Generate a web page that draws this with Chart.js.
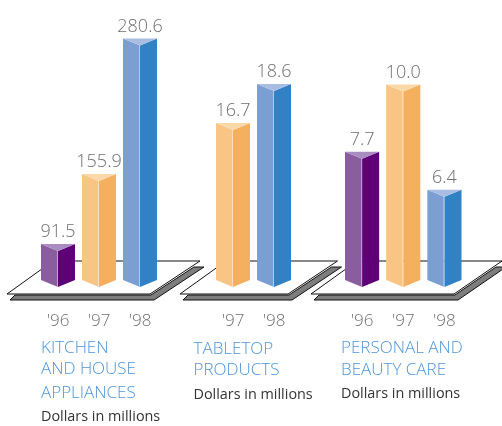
<!DOCTYPE html>
<html>
<head>
<meta charset="utf-8">
<script src="https://cdn.jsdelivr.net/npm/chart.js@4"></script>
<style>
  html, body { margin: 0; padding: 0; background: #fff; }
  #page { position: relative; width: 502px; height: 426px; overflow: hidden; }
  #page canvas { position: absolute; left: 0; top: 0; }
  .line { position: absolute; white-space: nowrap; font-family: "Open Sans", sans-serif; line-height: 20px; transform: translateY(-10px); }
  .head { color: #4f95d6; font-size: 17px; font-weight: 300; }
  .unit { color: #333; font-size: 14.4px; }
</style>
</head>
<body>
<div id="page"></div>
<script>
// Sales by product line, dollars in millions
const kitchenYears = ["'96", "'97", "'98"];
const kitchenSales = [91.5, 155.9, 280.6];
const tabletopYears = ["'97", "'98"];
const tabletopSales = [16.7, 18.6];
const personalYears = ["'96", "'97", "'98"];
const personalSales = [7.7, 10.0, 6.4];

const kitchenTitle = ["KITCHEN", "AND HOUSE", "APPLIANCES"];
const tabletopTitle = ["TABLETOP", "PRODUCTS"];
const personalTitle = ["PERSONAL AND", "BEAUTY CARE"];
const unitLabel = "Dollars in millions";

// Each year keeps its colour across the panels: left face, right face, cap
const yearFaces = {
  "'96": ["#8a5d9f", "#5f0077", "#a98cc0"],
  "'97": ["#f9c585", "#f4b05f", "#fbd8a8"],
  "'98": ["#7b9fd3", "#3181c4", "#a9bde3"]
};

const CAP_DROP = 7;
const BAR_SHARE = 34 / 41;

// Platform under the bars, with its grey offset shadow
function drawFloor(ctx, area, f) {
  const base = area.bottom;
  const yFront = base + 7, yBack = base - 26, yShadow = base + 13;
  const bl = area.left - f.front, br = area.right - f.back;
  const tr = area.right + f.reach, tl = bl + 46;

  ctx.beginPath();
  ctx.moveTo(bl + 3, yShadow);
  ctx.lineTo(br + 4, yShadow);
  ctx.lineTo(tr + 4, yBack + 6);
  ctx.lineTo(tr - 6, yBack + 6);
  ctx.lineTo(br + 1, yFront + 1);
  ctx.lineTo(bl + 8, yFront + 1);
  ctx.closePath();
  ctx.fillStyle = "#7d7d7d";
  ctx.fill();
  ctx.strokeStyle = "#111";
  ctx.lineWidth = 1;
  ctx.stroke();

  ctx.beginPath();
  ctx.moveTo(bl, yFront);
  ctx.lineTo(br, yFront);
  ctx.lineTo(tr, yBack);
  ctx.lineTo(tl, yBack);
  ctx.closePath();
  ctx.fillStyle = "#fff";
  ctx.fill();
  ctx.strokeStyle = "#111";
  ctx.stroke();
}

function fillPoly(ctx, pts, color) {
  ctx.beginPath();
  pts.forEach((p, i) => i ? ctx.lineTo(p[0], p[1]) : ctx.moveTo(p[0], p[1]));
  ctx.closePath();
  ctx.fillStyle = color;
  ctx.fill();
}

// Draws each bar as a three-sided prism from the geometry the bar controller computed
const prismBars = {
  id: "prismBars",
  beforeDatasetsDraw(chart, args, opts) {
    drawFloor(chart.ctx, chart.chartArea, opts.floor);
  },
  afterDatasetsDraw(chart) {
    const ctx = chart.ctx;
    const meta = chart.getDatasetMeta(0);
    const values = chart.data.datasets[0].data;
    meta.data.forEach((bar, i) => {
      const { x, y, base, width } = bar.getProps(["x", "y", "base", "width"], true);
      const half = width / 2;
      const [left, right, cap] = yearFaces[chart.data.labels[i]];
      fillPoly(ctx, [[x - half, y - CAP_DROP], [x, y], [x, base], [x - half, base - CAP_DROP]], left);
      fillPoly(ctx, [[x, y], [x + half, y - CAP_DROP], [x + half, base - CAP_DROP], [x, base]], right);
      fillPoly(ctx, [[x - half, y - CAP_DROP], [x + half, y - CAP_DROP], [x, y]], cap);
      ctx.strokeStyle = "rgba(255,255,255,0.45)";
      ctx.lineWidth = 1;
      ctx.beginPath();
      ctx.moveTo(x - 0.5, y);
      ctx.lineTo(x - 0.5, base);
      ctx.stroke();

      ctx.fillStyle = "#6f6f6f";
      ctx.font = "300 18px 'Open Sans', sans-serif";
      ctx.textAlign = "center";
      ctx.textBaseline = "alphabetic";
      ctx.fillText(values[i].toFixed(1), x, y - CAP_DROP - 7);
    });
  }
};

const page = document.getElementById("page");

function addPanel(years, sales, axisMin, axisMax, inset, floor) {
  const canvas = document.createElement("canvas");
  canvas.width = 502;
  canvas.height = 426;
  canvas.style.width = "502px";
  canvas.style.height = "426px";
  page.appendChild(canvas);
  new Chart(canvas, {
    type: "bar",
    data: {
      labels: years,
      datasets: [{
        data: sales,
        base: axisMin,
        backgroundColor: "transparent",
        barPercentage: BAR_SHARE,
        categoryPercentage: 1
      }]
    },
    plugins: [prismBars],
    options: {
      responsive: false,
      animation: false,
      events: [],
      layout: { padding: { left: inset.left, right: 502 - inset.right, top: 30, bottom: 0 } },
      plugins: {
        legend: { display: false },
        tooltip: { enabled: false },
        title: { display: false },
        prismBars: { floor }
      },
      scales: {
        x: {
          grid: { display: false },
          border: { display: false },
          ticks: { color: "#6f6f6f", padding: 16, maxRotation: 0, autoSkip: false,
                    font: { family: "'Open Sans', sans-serif", size: 17, weight: 300 } },
          afterFit(scale) { scale.height = 426 - 287; }
        },
        y: {
          display: false,
          min: axisMin,
          max: axisMax
        }
      }
    }
  });
}

function addCaption(x, lines, tops) {
  lines.forEach((text, i) => {
    const el = document.createElement("div");
    el.className = "line " + (text === unitLabel ? "unit" : "head");
    el.textContent = text;
    el.style.left = x + "px";
    el.style.top = tops[i] + "px";
    page.appendChild(el);
  });
}

addPanel(kitchenYears, kitchenSales, 58.5, 294.9, { left: 37.5, right: 160.5 }, { front: 30.5, back: 10.5, reach: 39.5 });
addPanel(tabletopYears, tabletopSales, 9.04, 21.58, { left: 212.5, right: 294.5 }, { front: 32.5, back: 6.5, reach: 43 });
addPanel(personalYears, personalSales, 3.31, 12.11, { left: 341.5, right: 465 }, { front: 30.5, back: 11, reach: 37 });

addCaption(41, [...kitchenTitle, unitLabel], [347, 368, 392, 416]);
addCaption(193.5, [...tabletopTitle, unitLabel], [348, 369, 393.5]);
addCaption(341, [...personalTitle, unitLabel], [347, 369, 393]);
</script>
</body>
</html>
